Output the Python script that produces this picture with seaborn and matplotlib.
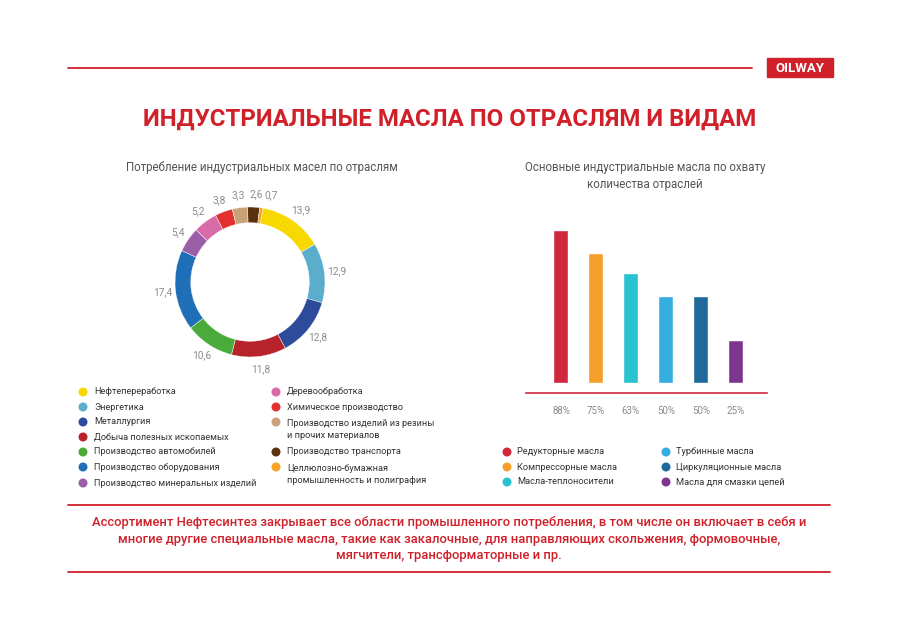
import matplotlib
matplotlib.use("Agg")
import matplotlib.pyplot as plt
import numpy as np
import pandas as pd
import seaborn as sns

# --- data ---
industries = ["Нефтепереработка", "Энергетика", "Металлургия", "Добыча полезных ископаемых",
              "Производство автомобилей", "Производство оборудования",
              "Производство минеральных изделий", "Деревообработка", "Химическое производство",
              "Производство изделий из резины\nи прочих материалов", "Производство транспорта",
              "Целлюлозно-бумажная\nпромышленность и полиграфия"]
shares = [13.9, 12.9, 12.8, 11.8, 10.6, 17.4, 5.4, 5.2, 3.8, 3.3, 2.6, 0.7]
share_colors = ["#f7d800", "#5aaecb", "#2e4a9a", "#b8232b", "#4aab3a", "#1f6fb8",
                "#9b5ea8", "#d96ba8", "#e2302f", "#c9a27a", "#5a3210", "#f7a32a"]

oils = ["Редукторные масла", "Компрессорные масла", "Масла-теплоносители",
        "Турбинные масла", "Циркуляционные масла", "Масла для смазки цепей"]
coverage = [88, 75, 63, 50, 50, 25]
oil_colors = ["#d0283c", "#f5a02a", "#29c2cf", "#35ade0", "#1f6a9a", "#7d3590"]

RED = "#d0202a"
GRAY = "#555555"

sns.set_theme(style="white")
plt.rcParams['font.family'] = ['Roboto', 'DejaVu Sans']

W, H = 900, 642
fig = plt.figure(figsize=(9, 6.42), dpi=100)
fig.patch.set_facecolor("white")

# overlay axes in pixel coordinates for text / decorations
bg = fig.add_axes([0, 0, 1, 1])
bg.set_xlim(0, W)
bg.set_ylim(H, 0)
bg.axis("off")

# header
bg.plot([68, 752], [68, 68], color=RED, lw=1.3)
bg.add_patch(plt.Rectangle((767, 58), 66, 19, color=RED))
bg.text(800, 68, "OILWAY", color="white", fontsize=9.5, fontweight="bold",
        ha="center", va="center")
bg.text(450, 119, "ИНДУСТРИАЛЬНЫЕ МАСЛА ПО ОТРАСЛЯМ И ВИДАМ", color=RED,
        fontsize=17.3, fontweight="bold", ha="center", va="center")

# subtitles
bg.text(262, 168, "Потребление индустриальных масел по отраслям", color=GRAY,
        fontsize=8.3, ha="center", va="center")
bg.text(645, 176, "Основные индустриальные масла по охвату\nколичества отраслей", color=GRAY,
        fontsize=8.3, ha="center", va="center", linespacing=1.35)

# --- donut ---
cx, cy, r = 250, 282, 75
pad = 22
ax_p = fig.add_axes([(cx - r - pad) / W, 1 - (cy + r + pad) / H,
                     2 * (r + pad) / W, 2 * (r + pad) / H])
lim = (r + pad) / r
wedges, texts = ax_p.pie(shares, colors=share_colors, startangle=80, counterclock=False,
                         radius=1, labels=[f"{v:.1f}".replace(".", ",") for v in shares],
                         labeldistance=1.17,
                         wedgeprops=dict(width=0.21, edgecolor="white", linewidth=0.3),
                         textprops=dict(color="#8c8c8c", fontsize=7.3))
for t in texts:
    t.set_ha("center")
    t.set_va("center")
# spread the crowded labels at the top a little
x0, y0 = texts[-1].get_position()
texts[-1].set_position((x0 + 0.1, y0))
x1, y1 = texts[-2].get_position()
texts[-2].set_position((x1 + 0.02, y1))
ax_p.set_xlim(-lim, lim)
ax_p.set_ylim(-lim, lim)
ax_p.set_aspect("equal")

# left legend
line_h = 15
col1_y = [392, 407, 422, 437, 452, 467, 483]
col2_y = [392, 407, 422, 452, 467]
for i, (name, c) in enumerate(zip(industries, share_colors)):
    if i < 7:
        x, y = 83, col1_y[i]
    else:
        x, y = 276, col2_y[i - 7]
    n = name.count("\n")
    bg.scatter([x], [y], s=42, color=c, edgecolor="none")
    bg.text(x + 11, y + n * line_h / 2, name, fontsize=6.6, color="#333333", va="center",
            linespacing=1.55)

# --- bar chart ---
ppp = 1.74  # pixels per percent
left, right = 526, 767
ybase = 393
ymin, ymax = -10 / ppp, 100
ax_b = fig.add_axes([left / W, 1 - ybase / H, (right - left) / W, (ymax - ymin) * ppp / H])
df = pd.DataFrame({"oil": oils, "coverage": coverage})
sns.barplot(data=df, x="oil", y="coverage", hue="oil", palette=oil_colors,
            legend=False, width=0.43, ax=ax_b, saturation=1)
ax_b.set_xlim(-1, 5.89)
ax_b.set_ylim(ymin, ymax)
ax_b.set_xticks(range(len(oils)))
ax_b.set_xticklabels([f"{v}%" for v in coverage], color="#8c8c8c", fontsize=7)
ax_b.tick_params(axis="x", length=0, pad=9)
ax_b.set_yticks([])
ax_b.set_xlabel("")
ax_b.set_ylabel("")
ax_b.patch.set_alpha(0)
for s in ["top", "left", "right"]:
    ax_b.spines[s].set_visible(False)
ax_b.spines["bottom"].set_color("#d0283c")
ax_b.spines["bottom"].set_linewidth(1.2)

# right legend
for i, (name, c) in enumerate(zip(oils, oil_colors)):
    x = 507 if i < 3 else 666
    y = [452, 467, 482][i % 3]
    bg.scatter([x], [y], s=42, color=c, edgecolor="none")
    bg.text(x + 10, y, name, fontsize=6.7, color="#333333", va="center")

# footer
bg.plot([68, 830], [505, 505], color=RED, lw=1.3)
bg.plot([68, 830], [572, 572], color=RED, lw=1.3)
bg.text(449, 539,
        "Ассортимент Нефтесинтез закрывает все области промышленного потребления, в том числе он включает в себя и\n"
        "многие другие специальные масла, такие как закалочные, для направляющих скольжения, формовочные,\n"
        "мягчители, трансформаторные и пр.",
        color=RED, fontsize=9.4, fontweight="medium", ha="center", va="center", linespacing=1.35)

fig.savefig("out.png", dpi=100)
